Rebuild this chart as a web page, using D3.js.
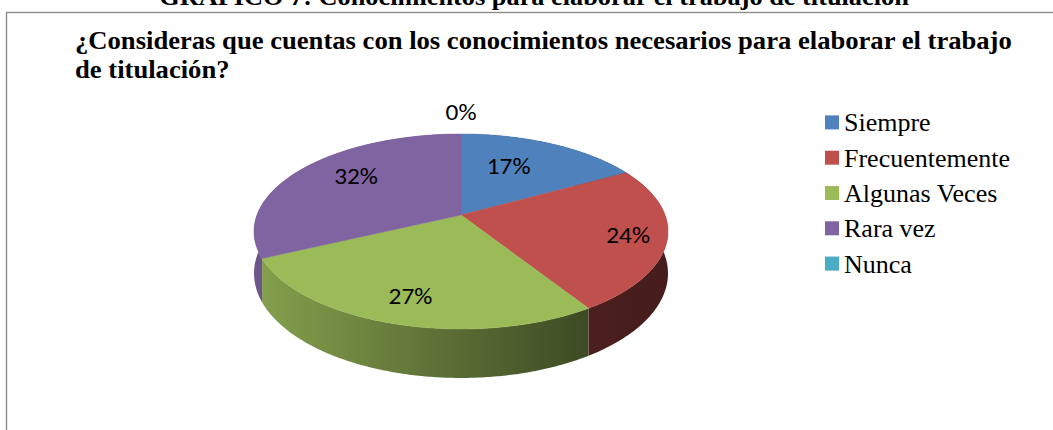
<!DOCTYPE html>
<html>
<head>
<meta charset="utf-8">
<script src="https://cdn.jsdelivr.net/npm/d3@7/dist/d3.min.js"></script>
<style>
  html, body { margin: 0; padding: 0; background: #fff; }
  svg { display: block; }
</style>
</head>
<body>
<svg id="chart" width="1053" height="430"></svg>
<script>
// ---- data ----
const categories = ["Siempre", "Frecuentemente", "Algunas Veces", "Rara vez", "Nunca"];
const values = [17, 24, 27, 32, 0];
const colors = ["#4F81BD", "#C0504D", "#9BBB59", "#8064A2", "#4BACC6"];
const pctLabels = values.map(v => v + "%");
const pageTitle = "GRÁFICO 7: Conocimientos para elaborar el trabajo de titulación";
const chartTitle = ["¿Consideras que cuentas con los conocimientos necesarios para elaborar el trabajo", "de titulación?"];

// ---- layout ----
const svg = d3.select("#chart");

// 3D perspective pie projection
const cx = 461, cy = 215, A = 94.7, B = 204, k = 0.169, depth = 40.7;
function proj(phi, rho) {
  const a = rho * Math.sin(phi), b = -rho * Math.cos(phi);
  const s = 1 / (1 - k * b);
  return [cx + B * a * s, cy + A * b * s, s];
}

// page title (cut at top)
svg.append("text")
  .attr("transform", "translate(534,4.5) scale(1.075,1)")
  .attr("text-anchor", "middle")
  .attr("font-family", "Liberation Serif, Times New Roman, serif")
  .attr("font-weight", "bold")
  .attr("font-size", 24.5)
  .attr("fill", "#000")
  .text(pageTitle);

// chart border
svg.append("rect")
  .attr("x", 6.5).attr("y", 12.5)
  .attr("width", 1100).attr("height", 500)
  .attr("fill", "#fff")
  .attr("stroke", "#8c8c8c")
  .attr("stroke-width", 1.4);

// chart title
chartTitle.forEach((line, i) => {
  svg.append("text")
    .attr("transform", `translate(75,${49 + i * 28.5}) scale(1.065,1)`)
    .attr("font-family", "Liberation Serif, Times New Roman, serif")
    .attr("font-weight", "bold")
    .attr("font-size", 25)
    .attr("fill", "#000")
    .text(line);
});

// gradients for side walls
const defs = svg.append("defs");
const shade = d3.scaleLinear().domain([0, 0.35, 0.82, 1]).range([0.86, 0.66, 0.39, 0.36]);
colors.forEach((c, i) => {
  const g = defs.append("linearGradient")
    .attr("id", "side" + i)
    .attr("gradientUnits", "userSpaceOnUse")
    .attr("x1", cx - 207).attr("x2", cx + 207)
    .attr("y1", 0).attr("y2", 0);
  const base = d3.rgb(c);
  [0, 0.35, 0.82, 1].forEach(o => {
    const f = shade(o);
    g.append("stop").attr("offset", o)
      .attr("stop-color", d3.rgb(base.r * f, base.g * f, base.b * f).formatHex());
  });
});

const pie = d3.pie().sort(null).value(d => d).startAngle(0).endAngle(2 * Math.PI);
const arcs = pie(values);
const line = d3.line();

function arcPoints(a0, a1, rho) {
  const n = Math.max(2, Math.ceil((a1 - a0) / 0.01));
  return d3.range(n + 1).map(i => a0 + (a1 - a0) * i / n).map(p => proj(p, rho));
}

// side walls
const gSide = svg.append("g");
arcs.forEach((d, i) => {
  if (d.endAngle - d.startAngle <= 0) return;
  const top = arcPoints(d.startAngle, d.endAngle, 1);
  const bottom = top.map(p => [p[0], p[1] + depth * p[2]]).reverse();
  const pts = top.map(p => [p[0], p[1]]).concat(bottom);
  gSide.append("path")
    .attr("d", line(pts) + "Z")
    .attr("fill", `url(#side${i})`);
});

// top faces
const gTop = svg.append("g");
arcs.forEach((d, i) => {
  if (d.endAngle - d.startAngle <= 0) return;
  const pts = [[cx, cy]].concat(arcPoints(d.startAngle, d.endAngle, 1).map(p => [p[0], p[1]]));
  gTop.append("path")
    .attr("d", line(pts) + "Z")
    .attr("fill", colors[i])
    .attr("stroke", colors[i])
    .attr("stroke-width", 0.5);
});

// data labels
const gLab = svg.append("g");
arcs.forEach((d, i) => {
  let mid = (d.startAngle + d.endAngle) / 2;
  const b = -Math.cos(mid);
  if (b < 0) mid -= (7 * Math.PI / 180) * Math.sin(2 * mid);
  const rho = (d.endAngle - d.startAngle) > 0 ? 0.80 + 0.10 * b - 0.13 * b * b : 1.33;
  const p = proj(mid, rho);
  gLab.append("text")
    .attr("transform", `translate(${p[0]},${p[1]}) scale(1.1,1)`)
    .attr("text-anchor", "middle")
    .attr("dominant-baseline", "central")
    .attr("font-family", "Carlito, Lato, Open Sans, sans-serif")
    .attr("font-size", 23)
    .attr("fill", "#000")
    .text(pctLabels[i]);
});

// legend
const ly = d3.scalePoint().domain(categories).range([131.4, 272.6]);
const gLeg = svg.append("g");
categories.forEach((c, i) => {
  gLeg.append("rect")
    .attr("x", 825).attr("y", ly(c) - 16)
    .attr("width", 14).attr("height", 14)
    .attr("fill", colors[i]);
  gLeg.append("text")
    .attr("x", 844).attr("y", ly(c))
    .attr("font-family", "Liberation Serif, Times New Roman, serif")
    .attr("font-size", 26)
    .attr("fill", "#000")
    .text(c);
});
</script>
</body>
</html>
